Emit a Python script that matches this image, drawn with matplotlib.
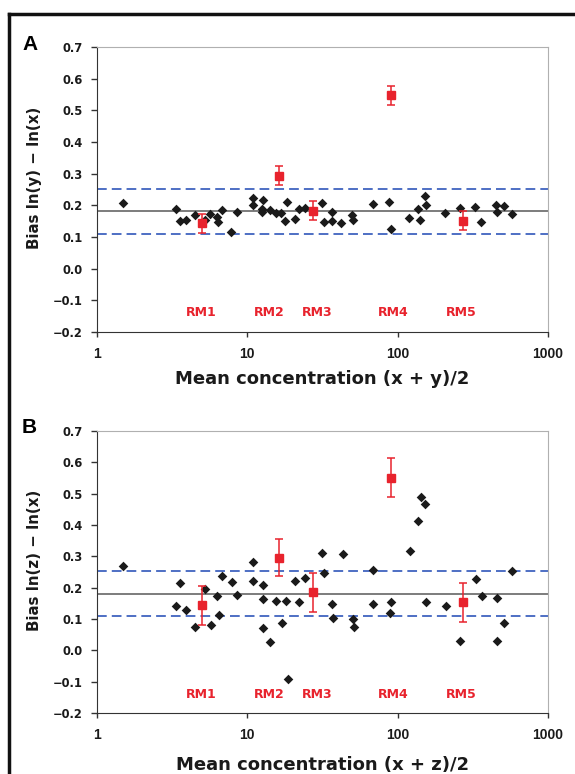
import matplotlib
matplotlib.use("Agg")
import matplotlib.pyplot as plt
from matplotlib.lines import Line2D

# ---- data ----
# panel A: black diamonds (x = mean concentration, y = bias)
a_x = [1.50, 3.34, 3.55, 3.91, 4.49, 5.23, 5.68, 6.29, 6.42, 6.76, 7.83, 8.54,
       10.86, 10.9, 12.65, 12.6, 12.6, 14.2, 15.4, 16.8, 17.8, 18.5, 20.7, 22.1,
       24.2, 31.3, 32.4, 36.6, 36.8, 42.2, 49.5, 50.3, 68.6, 88.1, 89.9, 119.7,
       136.7, 141.6, 152.9, 153.7, 205.7, 258.7, 328.7, 360.5, 453.6, 456.0,
       512.4, 574.0]
a_y = [0.206, 0.189, 0.152, 0.154, 0.171, 0.154, 0.174, 0.163, 0.147, 0.186,
       0.115, 0.178, 0.223, 0.202, 0.218, 0.189, 0.178, 0.185, 0.176, 0.175,
       0.150, 0.209, 0.156, 0.189, 0.191, 0.206, 0.146, 0.180, 0.149, 0.144,
       0.168, 0.153, 0.205, 0.210, 0.126, 0.161, 0.189, 0.153, 0.231, 0.202,
       0.175, 0.191, 0.194, 0.147, 0.202, 0.180, 0.199, 0.172]

# panel B
b_x = [1.50, 3.35, 3.57, 3.93, 4.51, 5.26, 5.74, 6.32, 6.45, 6.79, 7.87, 8.58,
       10.9, 10.96, 12.65, 12.7, 12.7, 14.2, 15.4, 16.9, 18.0, 18.6, 20.8, 22.2,
       24.3, 31.3, 32.4, 36.6, 37.0, 43.0, 50.1, 50.9, 68.9, 68.6, 90.8, 89.4,
       120.3, 136.7, 142.5, 152.9, 153.7, 208.8, 261.0, 332.4, 362.5, 460.6,
       460.0, 512.0, 579.0]
b_y = [0.270, 0.142, 0.214, 0.128, 0.075, 0.195, 0.081, 0.175, 0.112, 0.237,
       0.218, 0.176, 0.282, 0.220, 0.208, 0.163, 0.071, 0.027, 0.158, 0.088,
       0.158, -0.091, 0.221, 0.153, 0.230, 0.310, 0.246, 0.147, 0.103, 0.307,
       0.101, 0.076, 0.255, 0.147, 0.153, 0.119, 0.318, 0.413, 0.488, 0.467,
       0.153, 0.140, 0.029, 0.229, 0.175, 0.168, 0.031, 0.086, 0.254]

# reference materials (red squares)
rm_names = ["RM1", "RM2", "RM3", "RM4", "RM5"]
rm_x = [4.97, 16.2, 27.4, 90.4, 272.4]
rm_a = [0.143, 0.294, 0.183, 0.548, 0.151]
rm_a_err = [0.03, 0.03, 0.03, 0.03, 0.03]
rm_b = [0.144, 0.296, 0.185, 0.551, 0.153]
rm_b_err = [0.062, 0.06, 0.062, 0.062, 0.061]
rm_label_x = [4.9, 13.9, 29, 93, 266]

mean_bias = 0.181
limits = [0.252, 0.110]

yticks = [-0.2, -0.1, 0.0, 0.1, 0.2, 0.3, 0.4, 0.5, 0.6, 0.7]
ytick_labels = ["\u22120.2", "\u22120.1", "0.0", "0.1", "0.2", "0.3",
                "0.4", "0.5", "0.6", "0.7"]
xticks = [1, 10, 100, 1000]

W, H = 575, 774
fig = plt.figure(figsize=(W / 100, H / 100), dpi=100)

red = "#e8232d"
blue = "#4e6fc4"


def make_panel(top, bottom, px, py, ry, rerr, letter, ylab, xlab, xlab_y):
    ax = fig.add_axes([97 / W, 1 - bottom / H, (548 - 97) / W, (bottom - top) / H])
    ax.set_xscale("log")
    ax.set_xlim(1, 1000)
    ax.set_ylim(-0.2, 0.7)
    ax.axhline(mean_bias, color="#666666", lw=1.2, zorder=1)
    for lim in limits:
        ax.axhline(lim, color=blue, lw=1.4, dashes=(5, 2.6), zorder=1)
    ax.scatter(px, py, marker="D", s=24, color="#1a1a1a", zorder=3, linewidths=0)
    ax.errorbar(rm_x, ry, yerr=rerr, fmt="s", ms=6, color=red, ecolor=red,
                elinewidth=1.1, capsize=3, capthick=1.1, zorder=4)
    for name, lx in zip(rm_names, rm_label_x):
        ax.text(lx, -0.14, name, color=red, ha="center", va="center",
                fontsize=9, fontweight="bold", family="DejaVu Sans")
    ax.set_yticks(yticks)
    ax.set_yticklabels(ytick_labels)
    ax.set_xticks(xticks)
    ax.set_xticklabels([str(t) for t in xticks])
    ax.xaxis.set_minor_locator(matplotlib.ticker.NullLocator())
    for lab in ax.get_yticklabels():
        lab.set_fontweight("bold")
        lab.set_fontsize(8.3)
        lab.set_family("DejaVu Sans")
    for lab in ax.get_xticklabels():
        lab.set_fontweight("bold")
        lab.set_fontsize(10)
        lab.set_family("Liberation Sans")
    ax.tick_params(axis="y", direction="out", length=4.5, width=1,
                   color="#333333", labelcolor="#1a1a1a", pad=5.5)
    ax.tick_params(axis="x", direction="out", length=3.5, width=1,
                   color="#333333", labelcolor="#1a1a1a", pad=7.5)
    ax.spines["left"].set_color("#333333")
    ax.spines["bottom"].set_color("#333333")
    ax.spines["top"].set_color("#b0b0b0")
    ax.spines["right"].set_color("#b0b0b0")
    ax.set_ylabel(ylab, fontsize=10.8, fontweight="bold", family="DejaVu Sans",
                  color="#1a1a1a")
    ax.yaxis.set_label_coords(-0.122, 0.54)
    ax.set_xlabel(xlab, fontsize=13, fontweight="bold", family="DejaVu Sans",
                  color="#1a1a1a")
    h = bottom - top
    ax.xaxis.set_label_coords(0.5, -(xlab_y - bottom) / h)
    fig.text(22 / W, 1 - (top - 3) / H, letter, fontsize=15, fontweight="bold",
             family="Liberation Sans", ha="left", va="center")
    return ax


make_panel(47, 332, a_x, a_y, rm_a, rm_a_err, "A",
           "Bias ln(y) \u2212 ln(x)", "Mean concentration (x + y)/2", 370)
make_panel(431, 713, b_x, b_y, rm_b, rm_b_err, "B",
           "Bias ln(z) \u2212 ln(x)", "Mean concentration (x + z)/2", 756)

# frame lines at the left and top of the figure
fig.add_artist(Line2D([9 / W, 9 / W], [0, 1 - 14 / H], color="#111111", lw=2.5))
fig.add_artist(Line2D([9 / W, 1], [1 - 14 / H, 1 - 14 / H], color="#111111", lw=2.5))

fig.savefig("out.png", dpi=100)
